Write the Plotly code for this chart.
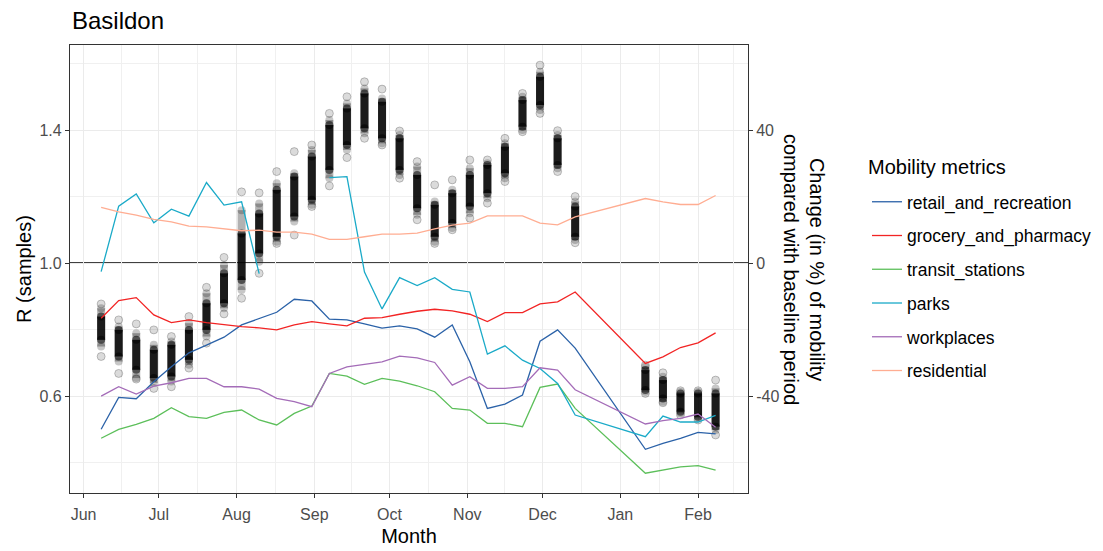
import plotly.graph_objects as go

# ---------------- data ----------------
weeks = ["2020-06-08", "2020-06-15", "2020-06-22", "2020-06-29", "2020-07-06", "2020-07-13",
         "2020-07-20", "2020-07-27", "2020-08-03", "2020-08-10", "2020-08-17", "2020-08-24",
         "2020-08-31", "2020-09-07", "2020-09-14", "2020-09-21", "2020-09-28", "2020-10-05",
         "2020-10-12", "2020-10-19", "2020-10-26", "2020-11-02", "2020-11-09", "2020-11-16",
         "2020-11-23", "2020-11-30", "2020-12-07", "2020-12-14",
         "2021-01-11", "2021-01-18", "2021-01-25", "2021-02-01", "2021-02-08"]

# R samples summarised per week
r_min = [0.719, 0.668, 0.651, 0.623, 0.628, 0.684, 0.759, 0.847, 0.894, 0.969, 1.059, 1.084,
         1.170, 1.232, 1.317, 1.375, 1.355, 1.255, 1.130, 1.059, 1.100, 1.135, 1.180, 1.245,
         1.395, 1.450, 1.275, 1.061, 0.608, 0.580, 0.543, 0.528, 0.483]
r_lo90 = [0.749, 0.704, 0.654, 0.639, 0.644, 0.694, 0.779, 0.864, 0.919, 1.004, 1.064, 1.125,
          1.175, 1.255, 1.340, 1.390, 1.360, 1.265, 1.145, 1.064, 1.105, 1.150, 1.195, 1.255,
          1.400, 1.460, 1.285, 1.069, 0.613, 0.583, 0.548, 0.533, 0.498]
r_lo50 = [0.769, 0.719, 0.679, 0.654, 0.659, 0.709, 0.799, 0.879, 0.949, 1.029, 1.079, 1.140,
          1.190, 1.280, 1.355, 1.405, 1.375, 1.280, 1.165, 1.079, 1.120, 1.170, 1.210, 1.270,
          1.410, 1.475, 1.295, 1.079, 0.618, 0.593, 0.553, 0.538, 0.508]
r_hi50 = [0.839, 0.799, 0.769, 0.739, 0.754, 0.799, 0.879, 0.969, 1.089, 1.149, 1.220, 1.260,
          1.320, 1.415, 1.465, 1.510, 1.485, 1.375, 1.265, 1.175, 1.210, 1.265, 1.295, 1.350,
          1.490, 1.560, 1.375, 1.170, 0.678, 0.648, 0.608, 0.608, 0.608]
r_hi90 = [0.864, 0.809, 0.789, 0.754, 0.764, 0.819, 0.909, 0.994, 1.159, 1.179, 1.240, 1.270,
          1.340, 1.430, 1.480, 1.525, 1.495, 1.385, 1.290, 1.185, 1.220, 1.285, 1.300, 1.360,
          1.500, 1.575, 1.385, 1.185, 0.688, 0.658, 0.612, 0.612, 0.623]
r_max = [0.877, 0.829, 0.817, 0.799, 0.779, 0.839, 0.927, 1.017, 1.214, 1.211, 1.275, 1.335,
         1.355, 1.450, 1.500, 1.545, 1.523, 1.397, 1.305, 1.235, 1.250, 1.310, 1.310, 1.375,
         1.510, 1.595, 1.398, 1.200, 0.693, 0.670, 0.616, 0.616, 0.648]

# Mobility change (% vs baseline)
retail_and_recreation = [-50.0, -40.4, -40.8, -35.7, -31.2, -27.0, -24.7, -22.3, -18.6, -16.8,
                         -14.8, -10.9, -11.4, -16.9, -17.1, -18.3, -19.6, -18.9, -19.8, -22.3,
                         -18.6, -29.7, -43.7, -42.4, -39.7, -23.5, -20.1, -25.6,
                         -56.0, -54.2, -52.7, -50.9, -51.4]
grocery_and_pharmacy = [-16.6, -11.3, -10.4, -15.6, -17.9, -17.1, -17.9, -18.6, -19.1, -19.5,
                        -20.1, -18.6, -17.6, -18.3, -18.9, -16.6, -16.4, -15.4, -14.5, -13.9,
                        -14.4, -15.4, -17.6, -14.9, -14.9, -12.3, -11.7, -8.7,
                        -30.2, -28.2, -25.4, -24.0, -21.0]
transit_stations = [-52.7, -50.0, -48.5, -46.7, -43.5, -46.2, -46.7, -44.9, -44.2, -47.2,
                    -48.7, -45.2, -43.0, -33.2, -34.0, -36.5, -34.7, -35.5, -36.9, -38.7,
                    -43.7, -44.2, -48.2, -48.2, -49.2, -37.4, -36.4, -43.7,
                    -63.2, -62.3, -61.3, -60.9, -62.3]
parks = [-2.6, 17.1, 20.8, 12.1, 16.2, 14.1, 24.2, 17.4, 18.4, -3.2,
         None, None, None, 25.7, 26.0, -2.7, -13.8, -4.4, -6.8, -4.4,
         -7.9, -8.7, -27.4, -24.9, -29.2, -31.7, -36.2, -45.7,
         -52.2, -46.0, -47.8, -47.8, -45.8]
workplaces = [-40.0, -37.2, -39.4, -37.0, -36.0, -34.7, -34.7, -37.2, -37.2, -37.9,
              -40.7, -41.7, -43.2, -33.2, -31.2, -30.5, -29.7, -28.0, -28.5, -29.9,
              -36.7, -34.2, -37.7, -37.7, -37.2, -31.5, -32.2, -38.1,
              -48.4, -47.4, -46.7, -45.4, -49.4]
residential = [16.7, 15.4, 14.4, 13.1, 12.4, 11.1, 10.9, 10.4, 9.7, 9.9,
               9.3, 9.3, 8.7, 7.1, 7.1, 7.9, 8.7, 8.7, 9.0, 10.3,
               11.4, 12.0, 14.2, 14.2, 14.2, 12.0, 11.5, 13.9,
               19.4, 18.4, 17.6, 17.6, 20.3]

series_names = ["retail_and_recreation", "grocery_and_pharmacy", "transit_stations",
                "parks", "workplaces", "residential"]
series_values = [retail_and_recreation, grocery_and_pharmacy, transit_stations,
                 parks, workplaces, residential]
series_colors = ["#2B62A8", "#F22424", "#5CBF5A", "#1AAAC8", "#A46CB8", "#FFAD92"]

month_ticks = ["2020-06-01", "2020-07-01", "2020-08-01", "2020-09-01", "2020-10-01",
               "2020-11-01", "2020-12-01", "2021-01-01", "2021-02-01"]
month_labels = ["Jun", "Jul", "Aug", "Sep", "Oct", "Nov", "Dec", "Jan", "Feb"]

# ---------------- figure ----------------
FONT = "Liberation Sans, Arial, sans-serif"
fig = go.Figure()


def segments(lo, hi):
    xs, ys = [], []
    for d, a, b in zip(weeks, lo, hi):
        xs += [d, d, None]
        ys += [a, b, None]
    return xs, ys


# outer extreme circles
fig.add_trace(go.Scatter(
    x=weeks + weeks, y=r_min + r_max, mode="markers", showlegend=False, hoverinfo="skip",
    marker=dict(size=8, color="rgba(0,0,0,0.14)", line=dict(color="rgba(0,0,0,0.22)", width=1)),
    yaxis="y"))
# 90% band
xs, ys = segments(r_lo90, r_hi90)
fig.add_trace(go.Scatter(
    x=xs, y=ys, mode="lines+markers", showlegend=False, hoverinfo="skip",
    line=dict(color="rgba(0,0,0,0.30)", width=8),
    marker=dict(size=8, color="rgba(0,0,0,0.22)"), yaxis="y"))
# dense core
xs, ys = segments(r_lo50, r_hi50)
fig.add_trace(go.Scatter(
    x=xs, y=ys, mode="lines+markers", showlegend=False, hoverinfo="skip",
    line=dict(color="rgba(0,0,0,0.85)", width=8),
    marker=dict(size=8, color="rgba(0,0,0,0.55)"), yaxis="y"))

for name, vals, col in zip(series_names, series_values, series_colors):
    fig.add_trace(go.Scatter(
        x=weeks, y=vals, mode="lines", name=name, legendgroup=name,
        line=dict(color=col, width=1.3), yaxis="y2", connectgaps=False))

R_RANGE = [0.3085, 1.6556]
fig.update_layout(
    width=1103, height=551,
    margin=dict(l=62, r=363, t=37, b=66),
    plot_bgcolor="white", paper_bgcolor="white",
    font=dict(family=FONT, color="#4D4D4D", size=16),
    title=dict(text="Basildon", x=0.058, xanchor="left", y=0.978, yanchor="middle",
               font=dict(size=24, color="black", family=FONT)),
    xaxis=dict(
        type="date", range=["2020-05-26 14:00", "2021-02-20 22:00"],
        tickmode="array", tickvals=month_ticks, ticktext=month_labels,
        ticks="outside", ticklen=4, tickcolor="#333333", tickwidth=1,
        ticklabelstandoff=3,
        showgrid=True, gridcolor="#EBEBEB", gridwidth=1.3,
        minor=dict(tickvals=["2020-06-16", "2020-07-16 12:00", "2020-08-16 12:00",
                             "2020-09-16", "2020-10-16 12:00", "2020-11-16",
                             "2020-12-16 12:00", "2021-01-16 12:00", "2021-02-15"],
                   showgrid=True, gridcolor="#F0F0F0", gridwidth=0.8, ticks=""),
        showline=True, linecolor="#333333", linewidth=1.2, mirror=True,
        tickfont=dict(size=16, color="#4D4D4D"), automargin=False,
        title=dict(text="Month", font=dict(size=20, color="black"), standoff=6),
        zeroline=False),
    yaxis=dict(
        range=R_RANGE, tickmode="array", tickvals=[0.6, 1.0, 1.4], ticktext=["0.6", "1.0", "1.4"],
        ticks="outside", ticklen=4, tickcolor="#333333", tickwidth=1,
        showgrid=True, gridcolor="#EBEBEB", gridwidth=1.3,
        minor=dict(tickvals=[0.4, 0.8, 1.2, 1.6], showgrid=True, gridcolor="#F0F0F0",
                   gridwidth=0.8, ticks=""),
        showline=True, linecolor="#333333", linewidth=1.2, mirror=True,
        tickfont=dict(size=16, color="#4D4D4D"), automargin=False,
        title=dict(text="R (samples)", font=dict(size=20, color="black"), standoff=2),
        zeroline=False),
    yaxis2=dict(
        range=[(R_RANGE[0] - 1) * 100, (R_RANGE[1] - 1) * 100], overlaying="y", side="right",
        tickmode="array", tickvals=[-40, 0, 40], ticktext=["-40", "0", "40"],
        ticks="outside", ticklen=4, tickcolor="#333333", tickwidth=1,
        showgrid=False, zeroline=False, showline=False, automargin=False,
        tickfont=dict(size=16, color="#4D4D4D")),
    legend=dict(
        x=1.1755, xanchor="left", y=0.690, yanchor="top",
        font=dict(size=17.5, color="black"), tracegroupgap=8,
        bgcolor="rgba(0,0,0,0)"),
    shapes=[dict(type="line", xref="paper", x0=0, x1=1, yref="y", y0=1.0, y1=1.0,
                 line=dict(color="black", width=1.5), layer="between")],
    annotations=[
        dict(text="Change (in %) of mobility<br>compared with baseline period",
             xref="paper", yref="paper", x=1, y=0.5, xshift=56,
             xanchor="center", yanchor="middle", textangle=90, showarrow=False,
             font=dict(size=20, color="black", family=FONT)),
        dict(text="Mobility metrics", xref="paper", yref="paper", x=1.1736, y=0.7277,
             xanchor="left", yanchor="middle", showarrow=False,
             font=dict(size=20, color="black", family=FONT)),
    ],
)

fig.write_html("out.html")
